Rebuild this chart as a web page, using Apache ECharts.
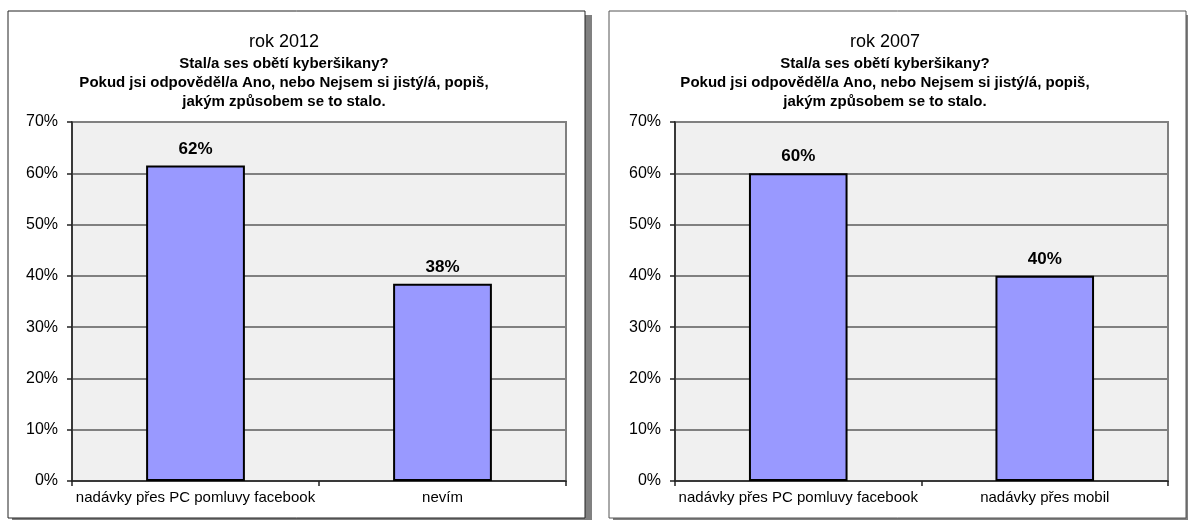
<!DOCTYPE html>
<html>
<head>
<meta charset="utf-8">
<script src="https://cdn.jsdelivr.net/npm/echarts@6/dist/echarts.min.js"></script>
<style>
html,body{margin:0;padding:0;background:#fff;}
#c{width:1188px;height:520px;}
</style>
</head>
<body>
<div id="c"></div>
<script>
// ---- data ----
var categories2012 = ['nadávky přes PC pomluvy facebook', 'nevím'];
var values2012 = [61.54, 38.46];
var categories2007 = ['nadávky přes PC pomluvy facebook', 'nadávky přes mobil'];
var values2007 = [60, 40];
var yearTitles = ['rok 2012', 'rok 2007'];
var questionText = 'Stal/a ses obětí kyberšikany?\nPokud jsi odpověděl/a Ano, nebo Nejsem si jistý/á, popiš,\njakým způsobem se to stalo.';
var yTicks = [0, 10, 20, 30, 40, 50, 60, 70];

var FONT = "'Liberation Sans', Arial, sans-serif";

var chart = echarts.init(document.getElementById('c'), null, {renderer: 'canvas'});

var grids = [
  {left: 72, top: 122, width: 494, height: 359},
  {left: 675, top: 122, width: 493, height: 359}
];
var titleCenters = [284, 885];

function yAxisOpt(i) {
  return {
    type: 'value', gridIndex: i,
    min: yTicks[0], max: yTicks[yTicks.length - 1], interval: 10,
    axisLine: {show: true, lineStyle: {color: '#222', width: 1.5}},
    axisTick: {show: true, length: 5, lineStyle: {color: '#222', width: 1.5}},
    axisLabel: {formatter: '{value}%', fontSize: 16, color: '#000', fontFamily: FONT, margin: 14},
    splitLine: {show: true, lineStyle: {color: '#808080', width: 1.8}}
  };
}
function xAxisOpt(i, cats) {
  return {
    type: 'category', gridIndex: i, data: cats,
    axisLine: {show: true, lineStyle: {color: '#222', width: 1.5}},
    axisTick: {show: true, length: 5, lineStyle: {color: '#222', width: 1.5}},
    axisLabel: {interval: 0, hideOverlap: false, fontSize: 15, color: '#000', fontFamily: FONT, margin: 9}
  };
}
function barSeries(i, vals) {
  return {
    type: 'bar', xAxisIndex: i, yAxisIndex: i, data: vals,
    barWidth: '40%',
    itemStyle: {color: '#9999ff', borderColor: '#000', borderWidth: 2},
    label: {
      show: true, position: 'top', distance: 8,
      formatter: function (p) { return Math.round(p.value) + '%'; },
      fontSize: 17, fontWeight: 'bold', color: '#000', fontFamily: FONT
    },
    silent: true, animation: false
  };
}

var option = {
  animation: false,
  backgroundColor: '#fff',
  graphic: {
    elements: [
      {type: 'rect', z: -20, shape: {x: 12, y: 15, width: 580, height: 510}, style: {fill: '#808080'}, silent: true},
      {type: 'rect', z: -19, shape: {x: 8, y: 11, width: 577, height: 507}, style: {fill: '#fff', stroke: '#222', lineWidth: 1}, silent: true},
      {type: 'rect', z: -20, shape: {x: 613, y: 15, width: 580, height: 510}, style: {fill: '#808080'}, silent: true},
      {type: 'rect', z: -19, shape: {x: 609, y: 11, width: 577, height: 507}, style: {fill: '#fff', stroke: '#555', lineWidth: 1}, silent: true}
    ]
  },
  title: [
    {text: yearTitles[0], left: titleCenters[0], top: 33, textAlign: 'center', padding: 0,
     textStyle: {fontSize: 18, fontWeight: 'normal', color: '#000', fontFamily: FONT}},
    {text: questionText, left: titleCenters[0], top: 54, textAlign: 'center', padding: 0,
     textStyle: {fontSize: 15, fontWeight: 'bold', color: '#000', fontFamily: FONT, lineHeight: 19}},
    {text: yearTitles[1], left: titleCenters[1], top: 33, textAlign: 'center', padding: 0,
     textStyle: {fontSize: 18, fontWeight: 'normal', color: '#000', fontFamily: FONT}},
    {text: questionText, left: titleCenters[1], top: 54, textAlign: 'center', padding: 0,
     textStyle: {fontSize: 15, fontWeight: 'bold', color: '#000', fontFamily: FONT, lineHeight: 19}}
  ],
  grid: grids.map(function (g) {
    return {left: g.left, top: g.top, width: g.width, height: g.height, containLabel: false,
      show: true, backgroundColor: '#f0f0f0', borderColor: '#808080', borderWidth: 2};
  }),
  xAxis: [xAxisOpt(0, categories2012), xAxisOpt(1, categories2007)],
  yAxis: [yAxisOpt(0), yAxisOpt(1)],
  series: [barSeries(0, values2012), barSeries(1, values2007)]
};
chart.setOption(option);
</script>
</body>
</html>
